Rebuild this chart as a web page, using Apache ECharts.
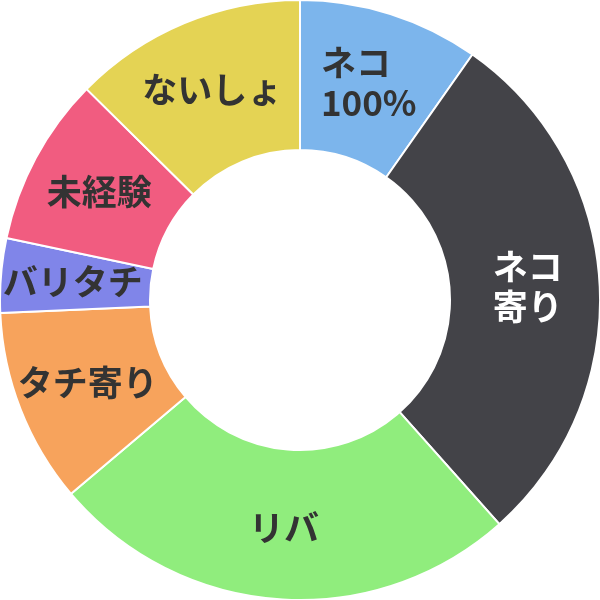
<!DOCTYPE html>
<html>
<head>
<meta charset="utf-8">
<style>
  html, body { margin: 0; padding: 0; background: #fff; }
  #chart { width: 600px; height: 600px; }
</style>
</head>
<body>
<div id="chart"></div>
<script src="https://cdn.jsdelivr.net/npm/echarts@6/dist/echarts.min.js"></script>
<script>
var categories = ['ネコ\n100%', 'ネコ\n寄り', 'リバ', 'タチ寄り', 'バリタチ', '未経験', 'ないしょ'];
var values = [9.75, 28.7, 25.4, 10.5, 4.0, 9.1, 12.6];
var colors = ['#7cb5ec', '#434348', '#90ed7d', '#f7a35c', '#8085e9', '#f15c80', '#e4d354'];
var labelColors = ['#333', '#fff', '#333', '#333', '#333', '#333', '#333'];

var chart = echarts.init(document.getElementById('chart'));

var seriesData = [];
for (var i = 0; i < categories.length; i++) {
  seriesData.push({
    name: categories[i],
    value: values[i],
    itemStyle: { color: colors[i] },
    label: { color: labelColors[i] }
  });
}

// lines of a label left aligned inside the block, like the original
function fmt(p) {
  return p.name.split('\n').map(function (s) { return '{t|' + s + '}'; }).join('\n');
}

chart.setOption({
  animation: false,
  series: [{
    type: 'pie',
    center: ['50%', '50%'],
    radius: ['50%', '100%'],
    startAngle: 90,
    clockwise: true,
    itemStyle: { borderColor: '#fff', borderWidth: 2 },
    label: {
      show: true,
      position: 'inside',
      formatter: fmt,
      fontFamily: 'Noto Sans CJK JP',
      fontWeight: 'bold',
      fontSize: 35,
      lineHeight: 40,
      rich: {
        t: { align: 'left', fontFamily: 'Noto Sans CJK JP', fontWeight: 'bold', fontSize: 35, lineHeight: 40 }
      }
    },
    labelLine: { show: false },
    data: seriesData
  }]
});
</script>
</body>
</html>
